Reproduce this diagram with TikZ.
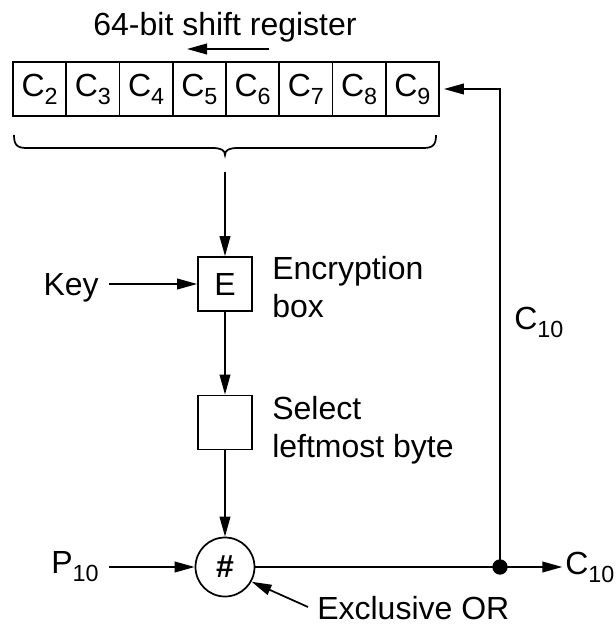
\documentclass[tikz,border=0pt]{standalone}
\usepackage{fontspec}
\setmainfont{Liberation Sans}
\usetikzlibrary{arrows.meta}
% lowered, smaller index digits
\newcommand\lowsub[1]{\raisebox{-6pt}{\fontsize{17.5}{17.5}\selectfont #1}}

\begin{document}
\begin{tikzpicture}[x=0.75pt,y=-0.75pt,
  every node/.style={font=\fontsize{24}{28.5}\selectfont, inner sep=0pt},
  wire/.style={line width=1.3pt},
  flow/.style={wire,-{Triangle[length=15pt,width=8pt]}},
  cell/.style={draw,line width=1.3pt,minimum width=39.94pt,minimum height=40.5pt},
  procbox/.style={draw,line width=1.3pt,minimum width=40.5pt,minimum height=40.5pt},
  xorgate/.style={draw,circle,line width=1.3pt,minimum size=44.25pt},
  lbl/.style={anchor=north west,align=left},
  joint/.style={circle,fill,minimum size=11.5pt}
]
\useasboundingbox (0,0) rectangle (616,625);

% shift register
\node[anchor=base] (title) at (225,35) {64-bit shift register};
\coordinate (sa) at (269,49);
\coordinate (sb) at (187,49);
\draw[flow] (sa) -- (sb);
\foreach \i in {2,...,9}
  \node[cell] (c\i) at ({13+53.25*(\i-1.5)},89) {C\lowsub{\i}};

% brace under the register
\draw[wire] (14,135) .. controls (14,145) and (17,148) .. (27,148)
  -- (212,148) .. controls (221,148) and (225,150) .. (225,155)
  .. controls (225,150) and (229,148) .. (238,148)
  -- (423,148) .. controls (433,148) and (436,145) .. (436,135);
\coordinate (bout) at (225,172);

% encryption and selection
\node[procbox] (E) at (225,284) {E};
\node[lbl] (elbl) at (272,256) {Encryption\\box};
\node[anchor=base east] (key) at (99,295) {Key};
\node[procbox] (sel) at (225,422.5) {};
\node[lbl] (slbl) at (272,396) {Select\\leftmost byte};

% exclusive or
\node[xorgate] (xor) at (225,567) {\bfseries\#};
\node[anchor=base west] (p) at (51,573) {P\lowsub{10}};
\node[joint] (dot) at (500,567) {};
\node[anchor=base west] (cout) at (565,574) {C\lowsub{10}};
\node[anchor=base west] (cfb) at (514,329) {C\lowsub{10}};
\node[anchor=base west] (xlab) at (317,619) {Exclusive OR};
\coordinate (xtail) at (308,607);

% connectors
\draw[flow] (bout) -- (E.north);
\draw[flow] ([xshift=7.5pt]key.east |- E.west) -- (E.west);
\draw[flow] (E.south) -- (sel.north);
\draw[flow] (sel.south) -- (xor.north);
\draw[flow] ([xshift=7.5pt]p.east |- xor.west) -- (xor.west);
\draw[wire] (xor.east) -- (dot.center);
\draw[flow,shorten >=2pt] (dot.center) -- (cout.west |- dot);
\draw[flow] (dot.center) |- ([xshift=3pt]c9.east);
\draw[flow] (xtail) -- (xor.-29);
\end{tikzpicture}
\end{document}
